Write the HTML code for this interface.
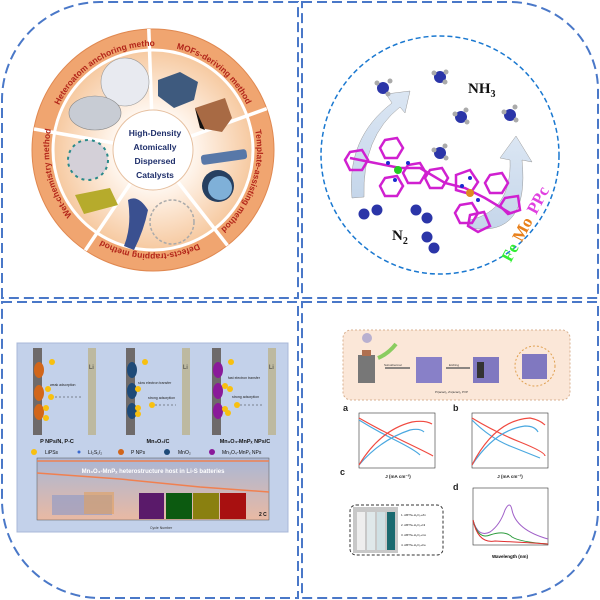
<!DOCTYPE html>
<html><head><meta charset="utf-8"><style>
html,body{margin:0;padding:0;background:#fff;}
svg{display:block;font-family:"Liberation Sans",sans-serif;}
</style></head><body>
<svg width="600" height="600" viewBox="0 0 600 600" xmlns="http://www.w3.org/2000/svg">
<defs>
<radialGradient id="peach" cx="50%" cy="50%" r="50%">
<stop offset="0.4" stop-color="#fff6ee"/><stop offset="1" stop-color="#f6c9a0"/></radialGradient>
<linearGradient id="chartbg" x1="0" y1="0" x2="0" y2="1">
<stop offset="0" stop-color="#a9b7d6"/><stop offset="1" stop-color="#e9b9a3"/></linearGradient>
<linearGradient id="arrowg" x1="0" y1="1" x2="0" y2="0">
<stop offset="0" stop-color="#c5d6ea"/><stop offset="1" stop-color="#dbe6f3"/></linearGradient>
<path id="ring" d="M153,46 A104,104 0 1 1 152.99,46"/>
</defs>

<g fill="none" stroke="#4a78c8" stroke-width="2" stroke-dasharray="10,5">
<path d="M2,298 L2,100 A98,98 0 0 1 100,2 L298,2 L298,298 Z"/>
<path d="M302,2 L510,2 A88,88 0 0 1 598,90 L598,298 L302,298 Z"/>
<path d="M2,302 L298,302 L298,598 L100,598 A98,98 0 0 1 2,500 Z"/>
<path d="M302,302 L598,302 L598,510 A88,88 0 0 1 510,598 L302,598 Z"/>
</g>

<circle cx="153" cy="150" r="121" fill="#f0a570"/>
<circle cx="153" cy="150" r="121" fill="none" stroke="#e08850" stroke-width="1"/>
<circle cx="153" cy="150" r="100" fill="url(#peach)" stroke="#fff" stroke-width="3"/>
<g stroke="#fff" stroke-width="3.5">
<line x1="151.6" y1="110" x2="148.8" y2="29"/>
<line x1="190.6" y1="136.3" x2="266.7" y2="108.6"/>
<line x1="177.6" y1="181.5" x2="227.5" y2="245.4"/>
<line x1="130.6" y1="183.2" x2="85.3" y2="250.3"/>
<line x1="113.7" y1="143" x2="34" y2="129"/>
</g>
<circle cx="153" cy="150" r="40" fill="#fff" stroke="#e6c0a0" stroke-width="1"/>
<g font-size="8.5" font-weight="bold" fill="#b3261a">
<text><textPath href="#ring" startOffset="598" text-anchor="middle">Heteroatom anchoring method</textPath></text>
<text><textPath href="#ring" startOffset="70" text-anchor="middle">MOFs-deriving method</textPath></text>
<text><textPath href="#ring" startOffset="198" text-anchor="middle">Template-assisting method</textPath></text>
<text><textPath href="#ring" startOffset="330" text-anchor="middle">Defects-trapping method</textPath></text>
<text><textPath href="#ring" startOffset="465" text-anchor="middle">Wet-chemistry method</textPath></text>
</g>
<g font-size="8.5" font-weight="bold" fill="#1f2f6b" text-anchor="middle">
<text x="155" y="136">High-Density</text>
<text x="155" y="150">Atomically</text>
<text x="155" y="164">Dispersed</text>
<text x="155" y="178">Catalysts</text>
</g>
<circle cx="125" cy="82" r="24" fill="#e8eaf0" stroke="#999" stroke-width="0.6"/>
<ellipse cx="95" cy="113" rx="26" ry="17" fill="#c8ccd4" stroke="#888" stroke-width="0.6"/>
<polygon points="158,80 180,72 198,82 194,100 174,108 158,96" fill="#3e5a7e"/>
<polygon points="195,108 225,98 232,118 222,132 200,128" fill="#a86a44"/>
<polygon points="195,108 205,130 200,128" fill="#111"/>
<rect x="201" y="152" width="46" height="10" rx="3" fill="#5878a8" transform="rotate(-8 224 157)"/>
<circle cx="218" cy="186" r="16" fill="#263f60"/>
<circle cx="220" cy="188" r="12" fill="#7fb0d8"/>
<path d="M128,200 q10,-6 20,10 q-4,20 -14,40 l-10,-4 q8,-20 4,-46z" fill="#3a5090"/>
<circle cx="172" cy="222" r="22" fill="none" stroke="#aaa" stroke-width="1.5" stroke-dasharray="3,2"/>
<circle cx="88" cy="160" r="20" fill="#d4d0d8" stroke="#2a8a8a" stroke-width="2" stroke-dasharray="3,4"/>
<polygon points="75,195 110,188 118,205 84,214" fill="#b6ab2c"/>

<!-- TR -->
<circle cx="440" cy="155" r="119" fill="none" stroke="#1a78d0" stroke-width="1.5" stroke-dasharray="5,3"/>
<path d="M352,198 q-6,-60 40,-95 l-6,-9 l24,-3 l-5,22 l-5,-6 q-38,30 -36,90 z" fill="url(#arrowg)" stroke="#999" stroke-width="0.5"/>
<path d="M470,228 q60,10 52,-68 l10,2 l-16,-26 l-16,22 l10,2 q2,50 -40,60 z" fill="url(#arrowg)" stroke="#999" stroke-width="0.5"/>
<g fill="#2b35a8">
<circle cx="383" cy="88" r="6"/><circle cx="440" cy="77" r="6"/><circle cx="461" cy="117" r="6"/><circle cx="510" cy="115" r="6"/><circle cx="440" cy="153" r="6"/>
</g>
<g fill="#aaa">
<circle cx="377" cy="83" r="2.5"/><circle cx="390" cy="81" r="2.5"/><circle cx="388" cy="94" r="2.5"/>
<circle cx="434" cy="73" r="2.5"/><circle cx="446" cy="72" r="2.5"/><circle cx="445" cy="82" r="2.5"/>
<circle cx="455" cy="114" r="2.5"/><circle cx="466" cy="110" r="2.5"/><circle cx="467" cy="122" r="2.5"/>
<circle cx="504" cy="112" r="2.5"/><circle cx="515" cy="107" r="2.5"/><circle cx="516" cy="120" r="2.5"/>
<circle cx="434" cy="150" r="2.5"/><circle cx="445" cy="146" r="2.5"/><circle cx="446" cy="158" r="2.5"/>
</g>
<g fill="#2b35a8">
<circle cx="364" cy="214" r="5.5"/><circle cx="377" cy="210" r="5.5"/>
<circle cx="416" cy="210" r="5.5"/><circle cx="427" cy="218" r="5.5"/>
<circle cx="427" cy="237" r="5.5"/><circle cx="434" cy="248" r="5.5"/>
</g>
<g stroke="#d020d0" stroke-width="2.5" fill="none">
<path d="M350,158 l25,5 l25,5 l20,0 l25,15 l20,5 l20,10 l25,15"/>
<polygon points="350,152 362,150 368,160 362,170 350,170 345,160"/>
<polygon points="385,140 397,138 403,148 397,158 385,158 380,148"/>
<polygon points="385,178 397,176 403,186 397,196 385,196 380,186"/>
<polygon points="408,165 420,163 426,173 420,183 408,183 403,173"/>
<polygon points="430,170 442,168 448,178 442,188 430,188 425,178"/>
<polygon points="456,175 470,170 478,182 470,194 456,190"/>
<polygon points="460,205 472,203 478,213 472,223 460,223 455,213"/>
<polygon points="470,215 484,212 490,226 478,232 468,226"/>
<polygon points="490,175 502,173 508,183 502,193 490,193 485,183"/>
<polygon points="505,198 518,196 520,210 508,214 500,206"/>
</g>
<circle cx="398" cy="170" r="4" fill="#22cc22"/>
<circle cx="470" cy="193" r="4" fill="#e08a20"/>
<g fill="#1a2ad0"><circle cx="388" cy="163" r="2"/><circle cx="408" cy="163" r="2"/><circle cx="395" cy="180" r="2"/><circle cx="462" cy="186" r="2"/><circle cx="478" cy="200" r="2"/><circle cx="470" cy="178" r="2"/></g>
<text x="468" y="93" font-family="Liberation Serif,serif" font-weight="bold" font-size="15" fill="#111">NH<tspan font-size="10" dy="4">3</tspan></text>
<text x="392" y="240" font-family="Liberation Serif,serif" font-weight="bold" font-size="15" fill="#111">N<tspan font-size="10" dy="4">2</tspan></text>
<g font-family="Liberation Serif,serif" font-weight="bold" font-size="17" transform="rotate(-62 512 250)">
<text x="500" y="255" fill="#33ee33">Fe</text><text x="523" y="255" fill="#e8801a">Mo</text><text x="554" y="255" fill="#e040e0">PPc</text>
</g>

<!-- BL panel -->
<rect x="17" y="343" width="271" height="189" fill="#c3d1ea" stroke="#a8b8d8"/>
<g>
<rect x="33" y="348" width="9" height="87" fill="#6e6a6a"/><rect x="88" y="348" width="8" height="87" fill="#bdb9a0"/>
<rect x="126" y="348" width="9" height="87" fill="#6e6a6a"/><rect x="182" y="348" width="8" height="87" fill="#bdb9a0"/>
<rect x="212" y="348" width="9" height="87" fill="#6e6a6a"/><rect x="268" y="348" width="8" height="87" fill="#bdb9a0"/>
</g>
<g font-size="6" fill="#333"><text x="89" y="369">Li</text><text x="183" y="369">Li</text><text x="269" y="369">Li</text></g>
<g fill="#d2661a"><ellipse cx="39" cy="370" rx="5" ry="8"/><ellipse cx="39" cy="393" rx="5" ry="8"/><ellipse cx="39" cy="412" rx="5" ry="8"/></g>
<g fill="#1e4a78"><ellipse cx="132" cy="370" rx="5" ry="8"/><ellipse cx="132" cy="391" rx="5" ry="8"/><ellipse cx="132" cy="411" rx="5" ry="8"/></g>
<g fill="#8a1a9a"><ellipse cx="218" cy="370" rx="5" ry="8"/><ellipse cx="218" cy="391" rx="5" ry="8"/><ellipse cx="218" cy="411" rx="5" ry="8"/></g>
<g fill="#f8c010">
<circle cx="52" cy="362" r="3"/><circle cx="48" cy="389" r="3"/><circle cx="51" cy="397" r="3"/><circle cx="46" cy="408" r="3"/><circle cx="46" cy="418" r="3"/>
<circle cx="145" cy="362" r="3"/><circle cx="138" cy="389" r="3"/><circle cx="138" cy="408" r="3"/><circle cx="138" cy="414" r="3"/><circle cx="152" cy="405" r="3"/>
<circle cx="231" cy="362" r="3"/><circle cx="225" cy="386" r="3"/><circle cx="230" cy="389" r="3"/><circle cx="225" cy="409" r="3"/><circle cx="228" cy="413" r="3"/><circle cx="237" cy="405" r="3"/>
</g>
<g stroke="#333" stroke-width="0.6" stroke-dasharray="2,2"><line x1="55" y1="397" x2="83" y2="397"/><line x1="155" y1="405" x2="176" y2="405"/><line x1="240" y1="405" x2="262" y2="405"/></g>
<g font-size="3.5" fill="#222"><text x="50" y="386">weak adsorption</text><text x="138" y="384">slow electron transfer</text><text x="148" y="399">strong adsorption</text><text x="228" y="379">fast electron transfer</text><text x="232" y="398">strong adsorption</text></g>
<g font-size="5.5" font-weight="bold" fill="#111" text-anchor="middle"><text x="57" y="443">P NPs/N, P-C</text><text x="158" y="443">Mn₃O₄/C</text><text x="245" y="443">Mn₃O₄-MnPₓ NPs/C</text></g>
<g font-size="5" fill="#111">
<circle cx="34" cy="452" r="3" fill="#f8c010"/><text x="45" y="454">LiPSs</text>
<circle cx="79" cy="452" r="1.5" fill="#3a6ad0"/><text x="88" y="454">Li₂S₁/₂</text>
<circle cx="121" cy="452" r="3" fill="#d2661a"/><text x="131" y="454">P NPs</text>
<circle cx="167" cy="452" r="3" fill="#1e4a78"/><text x="178" y="454">MnO₂</text>
<circle cx="212" cy="452" r="3" fill="#8a1a9a"/><text x="222" y="454">Mn₃O₄-MnPₓ NPs</text>
</g>
<rect x="37" y="458" width="232" height="62" fill="url(#chartbg)" stroke="#555" stroke-width="0.5"/>
<line x1="37" y1="461" x2="269" y2="461" stroke="#f08050" stroke-width="1.5"/>
<path d="M37,473 L120,479 L200,487 L269,492" stroke="#f08050" stroke-width="1.5" fill="none"/>
<text x="153" y="473" font-size="6" font-weight="bold" fill="#fff" text-anchor="middle">Mn₃O₄-MnPₓ heterostructure host in Li-S batteries</text>
<rect x="139" y="493" width="25" height="26" fill="#5a1a6a"/><rect x="166" y="493" width="26" height="26" fill="#0c5a10"/><rect x="193" y="493" width="26" height="26" fill="#8a8010"/><rect x="220" y="493" width="26" height="26" fill="#a81010"/>
<rect x="52" y="495" width="60" height="20" fill="#8a98c8" opacity="0.6"/>
<rect x="84" y="492" width="30" height="22" fill="#e0a060" opacity="0.6"/>
<text x="259" y="516" font-size="5" font-weight="bold" fill="#111">2 C</text>
<g font-size="3.5" fill="#333"><text x="150" y="529">Cycle Number</text></g>

<!-- BR -->
<rect x="343" y="330" width="227" height="70" rx="8" fill="#fbe7d8" stroke="#d8b090" stroke-dasharray="2,2"/>
<rect x="358" y="355" width="17" height="28" fill="#777"/><rect x="362" y="350" width="9" height="6" fill="#b07050"/>
<circle cx="367" cy="338" r="5" fill="#b8b0d0"/>
<path d="M378,358 q10,-4 18,-14" stroke="#8acc60" stroke-width="4" fill="none"/>
<line x1="385" y1="368" x2="410" y2="368" stroke="#666" stroke-width="1.5"/>
<rect x="416" y="357" width="26" height="26" fill="#8880c8"/>
<line x1="446" y1="368" x2="470" y2="368" stroke="#666" stroke-width="1.5"/>
<rect x="473" y="357" width="26" height="26" fill="#8078c0"/><rect x="477" y="362" width="7" height="16" fill="#333"/>
<circle cx="535" cy="366" r="20" fill="none" stroke="#e0a050" stroke-dasharray="2,2"/>
<rect x="522" y="354" width="25" height="25" fill="#8078c0"/>
<g font-size="3" fill="#333"><text x="384" y="366">Solvothermal</text><text x="449" y="366">Etching</text><text x="435" y="393">Pt(acac)₂   Zn(acac)₂   PVP</text></g>

<g font-size="4" fill="#222">
<text x="343" y="411" font-size="9" font-weight="bold">a</text>
<text x="453" y="411" font-size="9" font-weight="bold">b</text>
<text x="340" y="475" font-size="9" font-weight="bold">c</text>
<text x="453" y="490" font-size="9" font-weight="bold">d</text>
</g>
<rect x="359" y="413" width="76" height="55" fill="#fff" stroke="#333" stroke-width="0.6"/>
<path d="M359,420 Q375,430 395,440 T420,455" stroke="#4aa8e0" stroke-width="1.2" fill="none"/>
<path d="M359,418 Q380,430 405,442 T433,456" stroke="#f04a40" stroke-width="1.2" fill="none"/>
<path d="M359,465 Q380,440 410,430 Q420,428 424,432" stroke="#4aa8e0" stroke-width="1.2" fill="none"/>
<path d="M359,465 Q380,430 412,422 Q425,420 432,424" stroke="#f04a40" stroke-width="1.2" fill="none"/>
<rect x="472" y="413" width="76" height="55" fill="#fff" stroke="#333" stroke-width="0.6"/>
<path d="M472,420 Q490,438 510,446 T540,458" stroke="#4aa8e0" stroke-width="1.2" fill="none"/>
<path d="M472,418 Q495,432 520,442 T545,456" stroke="#f04a40" stroke-width="1.2" fill="none"/>
<path d="M472,465 Q495,430 525,426 Q535,426 538,432" stroke="#4aa8e0" stroke-width="1.2" fill="none"/>
<path d="M472,465 Q495,420 530,418 Q540,420 545,425" stroke="#f04a40" stroke-width="1.2" fill="none"/>
<g font-size="4.5" font-weight="bold" fill="#222" text-anchor="middle"><text x="398" y="478">J (mA cm⁻²)</text><text x="510" y="478">J (mA cm⁻²)</text></g>
<rect x="350" y="505" width="93" height="50" rx="6" fill="#fff" stroke="#333" stroke-dasharray="3,2"/>
<rect x="353" y="507" width="45" height="46" fill="#c8c8c8"/>
<rect x="357" y="512" width="8" height="38" fill="#eee"/><rect x="367" y="512" width="8" height="38" fill="#dfe8ea"/><rect x="377" y="512" width="8" height="38" fill="#cfe0e4"/><rect x="387" y="512" width="8" height="38" fill="#1a6a70"/>
<g font-size="3" fill="#222"><text x="401" y="516">1. ABTS+H₂O₂+Zn</text><text x="401" y="526">2. ABTS+H₂O₂+Ni</text><text x="401" y="536">3. ABTS+H₂O₂+Co</text><text x="401" y="546">4. ABTS+H₂O₂+Fe</text></g>
<rect x="473" y="488" width="75" height="57" fill="#fff" stroke="#333" stroke-width="0.6"/>
<path d="M473,520 Q478,538 490,532 Q500,525 505,510 Q510,500 512,510 Q516,530 548,539" stroke="#a060c8" stroke-width="1" fill="none"/>
<path d="M473,520 Q478,540 490,535 Q505,530 512,537 Q520,542 548,544" stroke="#2a9a3a" stroke-width="1" fill="none"/>
<path d="M473,520 Q478,544 495,541 Q515,542 548,544" stroke="#e03030" stroke-width="1" fill="none"/>
<text x="510" y="558" font-size="4.5" font-weight="bold" text-anchor="middle">Wavelength (nm)</text>
</svg>
</body></html>
